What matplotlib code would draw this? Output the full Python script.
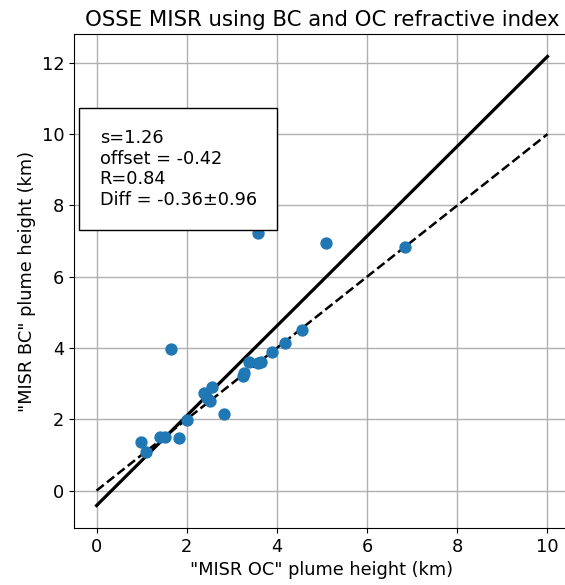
import numpy as np
import matplotlib
matplotlib.use('Agg')
from matplotlib import pyplot as plt

plt.rcParams['font.size'] = 12.75

# plume heights (km)
oc_height = [0.98, 1.09, 1.40, 1.51, 1.82, 1.66, 2.00, 2.39, 2.45, 2.51, 2.57,
             2.82, 3.24, 3.28, 3.37, 3.59, 3.64, 3.90, 4.17, 4.55, 3.59, 5.08,
             6.83]
bc_height = [1.35, 1.07, 1.49, 1.49, 1.47, 3.97, 1.97, 2.73, 2.60, 2.51, 2.90,
             2.14, 3.21, 3.30, 3.61, 3.58, 3.61, 3.89, 4.14, 4.51, 7.24, 6.96,
             6.82]
slope = 1.26
offset = -0.42
line_x = [0, 10]

fig = plt.figure(figsize=(5.65, 5.85), dpi=100)
ax = fig.add_axes([74 / 565, 57 / 585, 496 / 565, 494 / 585])

ax.scatter(oc_height, bc_height, s=62, color='tab:blue', zorder=3)
ax.plot(line_x, [slope * x + offset for x in line_x], 'k', lw=2.3)
ax.plot(line_x, line_x, 'k--', lw=1.8)
ax.grid(True, lw=1.0)

ax.set_xticks([0, 2, 4, 6, 8, 10])
ax.set_yticks([0, 2, 4, 6, 8, 10, 12])
ax.set_xlabel('"MISR OC" plume height (km)')
ax.set_ylabel('"MISR BC" plume height (km)')
ax.set_title('OSSE MISR using BC and OC refractive index')

txt = 's=1.26\noffset = -0.42\nR=0.84\nDiff = -0.36\u00b10.96'
ax.text(0.07, 10.15, txt, ha='left', va='top',
        bbox=dict(boxstyle='square,pad=1.15', fc='white', ec='k'))

fig.savefig('out.png', dpi=100)
